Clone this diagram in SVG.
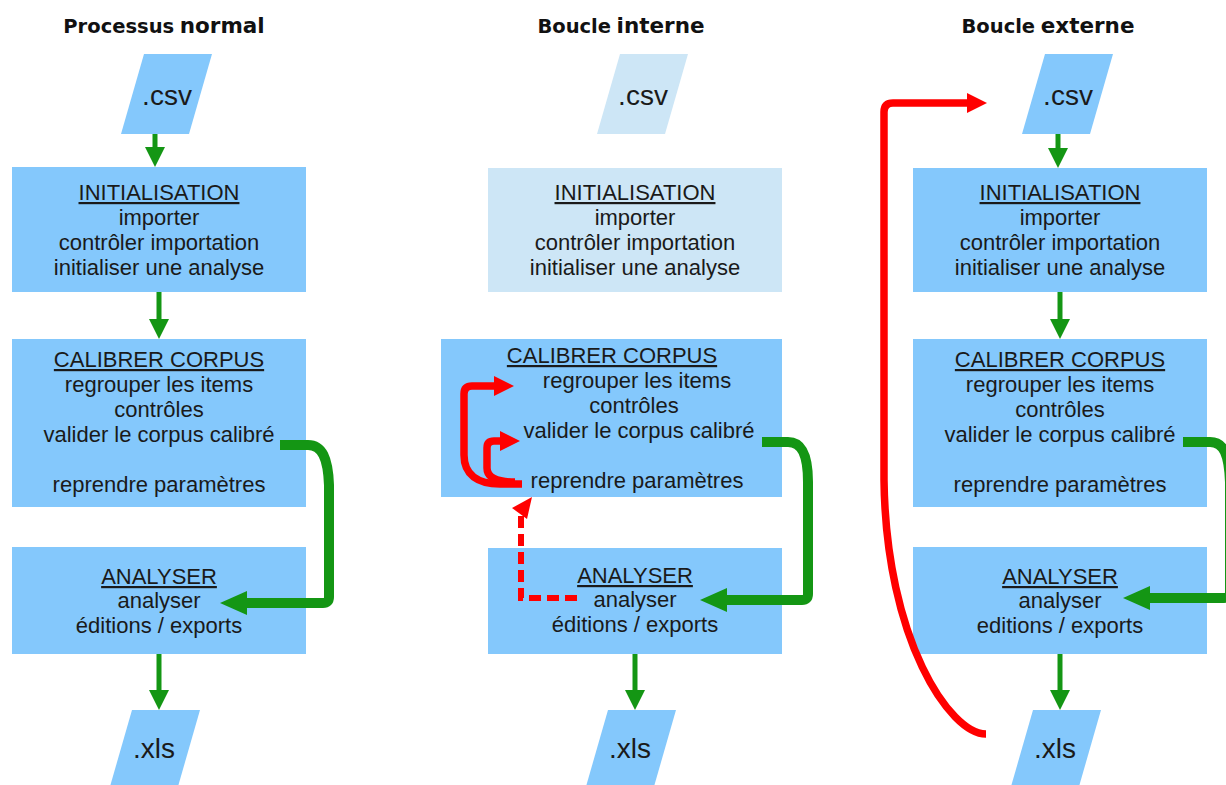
<svg xmlns="http://www.w3.org/2000/svg" width="1226" height="785" viewBox="0 0 1226 785">
<defs>
<style>
.bg{fill:#ffffff}
.box{fill:#84c8fc}
.fade{fill:#cde6f6}
.t{font-family:"Liberation Sans",Arial,sans-serif;font-size:22px;fill:#1a1a1a;text-anchor:middle}
.u{text-decoration:underline}
.f{font-family:"Liberation Sans",Arial,sans-serif;font-size:28px;fill:#1a1a1a;text-anchor:middle}
.title{font-family:"DejaVu Sans","Liberation Sans",sans-serif;font-weight:bold;fill:#111111;text-anchor:middle}
.s1{font-size:19.5px}
.s2{font-size:21.5px}
.g{fill:none;stroke:#149614;stroke-width:5}
.gt{fill:none;stroke:#149614;stroke-width:10;stroke-linejoin:round}
.r{fill:none;stroke:#ff0000;stroke-width:7.5;stroke-linejoin:round}
.rd{fill:none;stroke:#ff0000;stroke-width:6;stroke-dasharray:12 6}
</style>
<marker id="ag" markerUnits="userSpaceOnUse" viewBox="0 0 20 20" refX="0" refY="10" markerWidth="20" markerHeight="20" orient="auto">
<path d="M0,0 L20,10 L0,20 Z" fill="#149614"/>
</marker>
<marker id="agt" markerUnits="userSpaceOnUse" viewBox="0 0 27 24" refX="0" refY="12" markerWidth="27" markerHeight="24" orient="auto">
<path d="M0,0 L27,12 L0,24 Z" fill="#149614"/>
</marker>
<marker id="ar" markerUnits="userSpaceOnUse" viewBox="0 0 20 20" refX="0" refY="10" markerWidth="20" markerHeight="20" orient="auto">
<path d="M0,0 L20,10 L0,20 Z" fill="#ff0000"/>
</marker>
</defs>
<rect class="bg" x="0" y="0" width="1226" height="785"/>

<g id="titles">
<text class="title" x="164" y="33"><tspan class="s1">Processus</tspan> <tspan class="s2">normal</tspan></text>
<text class="title" x="621" y="33"><tspan class="s1">Boucle</tspan> <tspan class="s2">interne</tspan></text>
<text class="title" x="1048" y="33"><tspan class="s1">Boucle</tspan> <tspan class="s2">externe</tspan></text>
</g>

<!-- Column 1 -->
<g id="csv1"><path class="box" d="M144,54 L212,54 L189,134 L121,134 Z"/><text class="f" x="167" y="105">.csv</text></g>
<g id="init1"><rect class="box" x="12" y="167" width="294" height="125"/>
<text class="t u" x="159" y="200">INITIALISATION</text>
<text class="t" x="159" y="225">importer</text>
<text class="t" x="159" y="250">contrôler importation</text>
<text class="t" x="159" y="275">initialiser une analyse</text></g>
<g id="calib1"><rect class="box" x="12" y="339" width="294" height="168"/>
<text class="t u" x="159" y="367">CALIBRER CORPUS</text>
<text class="t" x="159" y="392">regrouper les items</text>
<text class="t" x="159" y="417">contrôles</text>
<text class="t" x="159" y="442">valider le corpus calibré</text>
<text class="t" x="159" y="492">reprendre paramètres</text></g>
<g id="anal1"><rect class="box" x="12" y="547" width="294" height="107"/>
<text class="t u" x="159" y="584">ANALYSER</text>
<text class="t" x="159" y="608">analyser</text>
<text class="t" x="159" y="633">éditions / exports</text></g>
<g id="xls1"><path class="box" d="M132,710 L200,710 L177,790 L109,790 Z"/><text class="f" x="154" y="758">.xls</text></g>

<!-- Column 2 -->
<g id="csv2"><path class="fade" d="M620,54 L688,54 L665,134 L597,134 Z"/><text class="f" x="643" y="105">.csv</text></g>
<g id="init2"><rect class="fade" x="488" y="168" width="294" height="124"/>
<text class="t u" x="635" y="200">INITIALISATION</text>
<text class="t" x="635" y="225">importer</text>
<text class="t" x="635" y="250">contrôler importation</text>
<text class="t" x="635" y="275">initialiser une analyse</text></g>
<g id="calib2"><rect class="box" x="441" y="339" width="341" height="158"/>
<text class="t u" x="612" y="363">CALIBRER CORPUS</text>
<text class="t" x="637" y="388">regrouper les items</text>
<text class="t" x="634" y="413">contrôles</text>
<text class="t" x="639" y="438">valider le corpus calibré</text>
<text class="t" x="637" y="488">reprendre paramètres</text></g>
<g id="anal2"><rect class="box" x="488" y="548" width="294" height="106"/>
<text class="t u" x="635" y="583">ANALYSER</text>
<text class="t" x="635" y="607">analyser</text>
<text class="t" x="635" y="632">éditions / exports</text></g>
<g id="xls2"><path class="box" d="M608,710 L676,710 L653,790 L585,790 Z"/><text class="f" x="630" y="758">.xls</text></g>

<!-- Column 3 -->
<g id="csv3"><path class="box" d="M1045,54 L1113,54 L1090,134 L1022,134 Z"/><text class="f" x="1068" y="105">.csv</text></g>
<g id="init3"><rect class="box" x="913" y="168" width="294" height="124"/>
<text class="t u" x="1060" y="200">INITIALISATION</text>
<text class="t" x="1060" y="225">importer</text>
<text class="t" x="1060" y="250">contrôler importation</text>
<text class="t" x="1060" y="275">initialiser une analyse</text></g>
<g id="calib3"><rect class="box" x="913" y="339" width="294" height="168"/>
<text class="t u" x="1060" y="367">CALIBRER CORPUS</text>
<text class="t" x="1060" y="392">regrouper les items</text>
<text class="t" x="1060" y="417">contrôles</text>
<text class="t" x="1060" y="442">valider le corpus calibré</text>
<text class="t" x="1060" y="492">reprendre paramètres</text></g>
<g id="anal3"><rect class="box" x="913" y="547" width="294" height="107"/>
<text class="t u" x="1060" y="584">ANALYSER</text>
<text class="t" x="1060" y="608">analyser</text>
<text class="t" x="1060" y="633">editions / exports</text></g>
<g id="xls3"><path class="box" d="M1033,710 L1101,710 L1078,790 L1010,790 Z"/><text class="f" x="1055" y="758">.xls</text></g>

<g id="connectors">
<!-- column 1 -->
<path class="g" d="M155,134 V147" marker-end="url(#ag)"/>
<path class="g" d="M159,292 V319" marker-end="url(#ag)"/>
<path class="g" d="M159,654 V690" marker-end="url(#ag)"/>
<path class="gt" d="M280,445 H308 C322,445 328,458 329,485 V597 Q329,603 323,603 H247" marker-end="url(#agt)"/>
<!-- column 2 -->
<path class="g" d="M635,654 V690" marker-end="url(#ag)"/>
<path class="gt" d="M762,442 H788 C802,442 808,455 808,482 V594 Q808,600 802,600 H727" marker-end="url(#agt)"/>
<path class="r" d="M522,484 H500 C478,484 464,475 464,455 V394 Q464,386 472,386 H494" marker-end="url(#ar)"/>
<path class="r" d="M515,482 C498,482 487,478 487,468 V448 Q487,441 494,441 H500" marker-end="url(#ar)"/>
<path class="rd" d="M577,598 H521 V514"/>
<polygon points="532,497 512,508 527,519" fill="#ff0000"/>
<!-- column 3 -->
<path class="g" d="M1058,134 V148" marker-end="url(#ag)"/>
<path class="g" d="M1060,292 V319" marker-end="url(#ag)"/>
<path class="g" d="M1060,654 V690" marker-end="url(#ag)"/>
<path class="gt" d="M1183,442 H1210 C1224,442 1229,455 1230,482 V592 Q1230,598 1224,598 H1150" marker-end="url(#agt)"/>
<path class="r" d="M986,734 C950,734 886,640 884,480 V112 Q884,103 893,103 H967" marker-end="url(#ar)"/>
</g>
</svg>
